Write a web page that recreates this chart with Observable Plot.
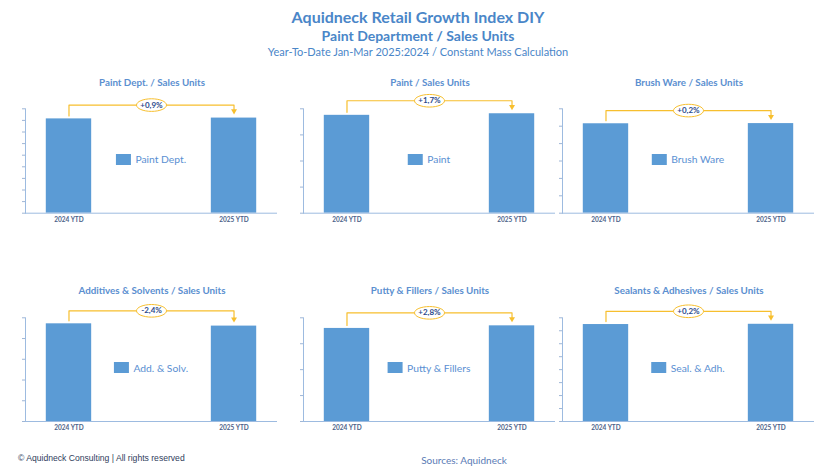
<!DOCTYPE html>
<html><head><meta charset="utf-8">
<script src="https://cdn.jsdelivr.net/npm/d3@7"></script>
<script src="https://cdn.jsdelivr.net/npm/@observablehq/plot@0.6"></script>
<style>
body{margin:0;background:#fff;}
#root{position:relative;width:833px;height:469px;overflow:hidden;font-family:Lato,"Open Sans",sans-serif;background:#fff;}
.abs{position:absolute;white-space:nowrap;}
.ctr{transform:translate(-50%,-50%);}
.ptitle{font-weight:700;font-size:9.8px;color:#5b8fd0;}
.legend{display:flex;align-items:center;font-size:10.3px;color:#5a8fd2;}
.legend .sw{display:inline-block;width:14.5px;height:11px;background:#5b9bd5;margin-right:5px;}
</style></head><body><div id="root">
<div class="abs ctr" style="left:418px;top:16px;font-weight:700;font-size:16px;color:#4a86c8;">Aquidneck Retail Growth Index DIY</div>
<div class="abs ctr" style="left:418px;top:35px;font-weight:700;font-size:14px;color:#4a86c8;">Paint Department / Sales Units</div>
<div class="abs ctr" style="left:418px;top:51px;font-size:11px;color:#4a86c8;">Year-To-Date Jan-Mar 2025:2024 / Constant Mass Calculation</div>
<div class="abs" style="left:18px;top:453px;font-family:'Liberation Sans',Arial,sans-serif;font-size:8.6px;color:#2f3d5c;">© Aquidneck Consulting | All rights reserved</div>
<div class="abs ctr" style="left:464px;top:460px;font-size:10px;color:#5a7bb5;">Sources: Aquidneck</div>
</div>
<script>
const periods = ["2024 YTD", "2025 YTD"];
const panelTitles = ["Paint Dept. / Sales Units", "Paint / Sales Units", "Brush Ware / Sales Units",
  "Additives & Solvents / Sales Units", "Putty & Fillers / Sales Units", "Sealants & Adhesives / Sales Units"];
const legendLabels = ["Paint Dept.", "Paint", "Brush Ware", "Add. & Solv.", "Putty & Fillers", "Seal. & Adh."];
const values2024 = [8.13, 3.75, 5.14, 4.71, 3.59, 7.48];
const values2025 = [8.20, 3.81, 5.15, 4.60, 3.69, 7.50];
const axisMax = [9, 4, 6, 5, 4, 8];
const changeLabels = ["+0,9%", "+1,7%", "+0,2%", "-2,4%", "+2,8%", "+0,2%"];

const root = document.getElementById("root");
const panelLeft = [0, 278, 537, 0, 278, 537];
const panelTop = [95, 95, 95, 304, 304, 304];
const gold = "#f7bf2e";
const ellipse = {draw(ctx) {
  const rx = 15, ry = 6.3, k = 0.5523;
  ctx.moveTo(rx, 0);
  ctx.bezierCurveTo(rx, ry * k, rx * k, ry, 0, ry);
  ctx.bezierCurveTo(-rx * k, ry, -rx, ry * k, -rx, 0);
  ctx.bezierCurveTo(-rx, -ry * k, -rx * k, -ry, 0, -ry);
  ctx.bezierCurveTo(rx * k, -ry, rx, -ry * k, rx, 0);
  ctx.closePath();
}};

for (let i = 0; i < 6; i++) {
  const W = 285, H = 135, mL = 25, mR = 8, mT = 13.3, mB = i < 3 ? 17.3 : 18;
  const innerW = W - mL - mR, innerH = H - mT - mB;
  const pIn = 0.725, pOut = 0.126;
  const step = innerW / (periods.length - pIn + 2 * pOut);
  const u = axisMax[i] / innerH;
  const v1 = values2024[i], v2 = values2025[i], vmax = Math.max(v1, v2);
  const yb = vmax + 13 * u;
  const data = periods.map((p, j) => ({period: p, value: [v1, v2][j]}));
  const bracket = [
    {x: periods[0], y: v1 + 3 * u}, {x: periods[0], y: yb},
    {x: periods[1], y: yb}, {x: periods[1], y: v2 + 7 * u}
  ];
  const plot = Plot.plot({
    width: W, height: H, marginLeft: mL, marginRight: mR, marginTop: mT, marginBottom: mB,
    style: {fontFamily: "Lato, sans-serif", background: "transparent", overflow: "visible"},
    x: {domain: periods, paddingInner: pIn, paddingOuter: pOut, round: false},
    y: {domain: [0, axisMax[i]]},
    marks: [
      Plot.barY(data, {x: "period", y: "value", fill: "#5b9bd5"}),
      Plot.axisY({ticks: d3.range(0, axisMax[i] + 1), tickSize: 3, tickFormat: () => "", stroke: "#9fb6d6", label: null}),
      Plot.frame({anchor: "left", stroke: "#9dbbe0"}),
      Plot.ruleY([0], {stroke: "#9dbbe0"}),
      Plot.axisX({tickSize: 0, tickPadding: 4, fontSize: 6.5, fontWeight: "bold", fill: "#4d6289", label: null}),
      Plot.line(bracket, {x: "x", y: "y", stroke: gold, strokeWidth: 1.2}),
      Plot.dot([0], {x: () => periods[1], y: () => v2 + 7 * u, symbol: "triangle", rotate: 180, r: 2.2, fill: gold, stroke: null}),
      Plot.dot([0], {x: () => periods[0], y: () => yb, dx: step / 2, symbol: ellipse, fill: "white", stroke: gold, strokeWidth: 1}),
      Plot.text([changeLabels[i]], {x: () => periods[0], y: () => yb, dx: step / 2, text: d => d, fontWeight: 700, fontSize: 8, fill: "#2b4a8c"})
    ]
  });
  plot.style.position = "absolute";
  plot.style.left = panelLeft[i] + "px";
  plot.style.top = panelTop[i] + "px";
  root.appendChild(plot);

  const t = document.createElement("div");
  t.className = "abs ctr ptitle";
  t.style.left = (panelLeft[i] + mL + innerW / 2 + 1) + "px";
  t.style.top = (i < 3 ? 81.5 : 290) + "px";
  t.textContent = panelTitles[i];
  root.appendChild(t);

  const lg = document.createElement("div");
  lg.className = "abs ctr legend";
  lg.style.left = (panelLeft[i] + mL + innerW / 2) + "px";
  lg.style.top = (panelTop[i] + mT + innerH / 2 - 1.5) + "px";
  const sw = document.createElement("span"); sw.className = "sw";
  const tx = document.createElement("span"); tx.textContent = legendLabels[i];
  lg.appendChild(sw); lg.appendChild(tx);
  root.appendChild(lg);
}
</script></body></html>
